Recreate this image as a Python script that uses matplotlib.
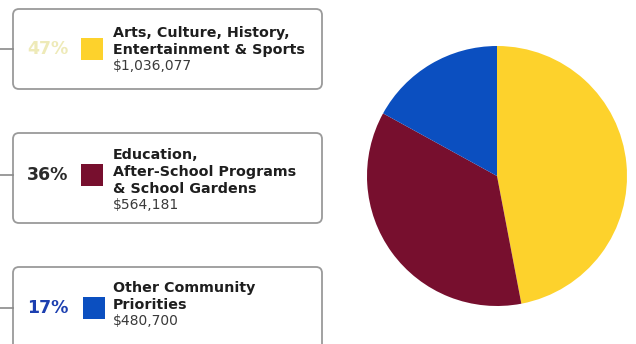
import matplotlib.pyplot as plt
from matplotlib.patches import FancyBboxPatch, Rectangle

# spending by category
categories = [
    ['Arts, Culture, History,', 'Entertainment & Sports'],
    ['Education,', 'After-School Programs', '& School Gardens'],
    ['Other Community', 'Priorities'],
]
amounts = ['$1,036,077', '$564,181', '$480,700']
shares = [47, 36, 17]
colors = ['#fdd22c', '#770f2e', '#0b4fc0']
pct_colors = ['#eeeab8', '#2a2a2a', '#1c3fb0']

W, H = 636, 344
fig = plt.figure(figsize=(W / 100, H / 100), dpi=100)
ax = fig.add_axes([0, 0, 1, 1])
ax.set_xlim(0, W)
ax.set_ylim(H, 0)
ax.axis('off')

# label boxes: (top, bottom, connector y, first text line y, square x)
boxes = [(9, 89, 49, 33, 81), (133, 223, 175, 155, 81), (267, 352, 308, 288, 83)]
line_step = 17

for i, (top, bot, cy, ty, sx) in enumerate(boxes):
    ax.plot([0, 13], [cy, cy], color='#8a8a8a', lw=1.2)
    ax.add_patch(FancyBboxPatch((13, top), 309, bot - top,
                                boxstyle='round,pad=0,rounding_size=6',
                                fc='white', ec='#9a9a9a', lw=1.3))
    ax.text(48, cy, f'{shares[i]}%', ha='center', va='center',
            fontsize=12.5, fontweight='bold', color=pct_colors[i])
    ax.add_patch(Rectangle((sx, cy - 11), 22, 22, fc=colors[i], ec='none'))
    y = ty
    for line in categories[i]:
        ax.text(113, y, line, ha='left', va='center', fontsize=10.3,
                fontweight='bold', color='#1e1e1e')
        y += line_step
    ax.text(113, y - 1, amounts[i], ha='left', va='center', fontsize=10,
            color='#3a3a3a')

# pie
cx, cy, r = 497, 176, 130
pax = fig.add_axes([(cx - r) / W, (H - cy - r) / H, 2 * r / W, 2 * r / H])
pax.pie(shares, colors=colors, startangle=90, counterclock=False,
        wedgeprops=dict(linewidth=0))
pax.set_xlim(-1, 1)
pax.set_ylim(-1, 1)
pax.set_aspect('equal')

fig.savefig('out.png', dpi=100)
